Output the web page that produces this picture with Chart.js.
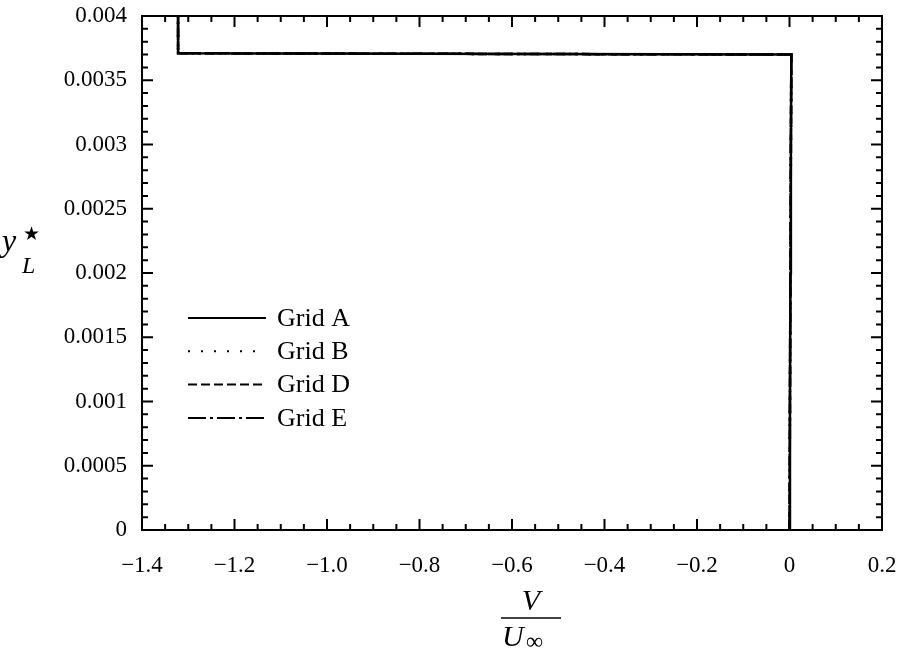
<!DOCTYPE html>
<html>
<head>
<meta charset="utf-8">
<script src="https://cdn.jsdelivr.net/npm/chart.js@4/dist/chart.umd.min.js"></script>
<style>
  html, body { margin: 0; padding: 0; background: #fff; }
  #wrap { width: 907px; height: 650px; position: relative; }
</style>
</head>
<body>
<div id="wrap"><canvas id="c" width="907" height="650"></canvas></div>
<script>
// ---- data ----
const seriesNames = ["Grid A", "Grid B", "Grid D", "Grid E"];
const yLevels = [0, 0.001, 0.002, 0.003, 0.0037, 0.00371, 0.004];
const vGridA = [0, 0.001, 0.002, 0.003, 0.004, -1.322, -1.322];
const vGridB = [0, 0.001, 0.002, 0.003, 0.004, -1.322, -1.322];
const vGridD = [0, 0.001, 0.002, 0.003, 0.004, -1.322, -1.322];
const vGridE = [0, 0.001, 0.002, 0.003, 0.004, -1.322, -1.322];
const xTicks = [-1.4, -1.2, -1.0, -0.8, -0.6, -0.4, -0.2, 0, 0.2];
const yTicks = [0, 0.0005, 0.001, 0.0015, 0.002, 0.0025, 0.003, 0.0035, 0.004];

const FONT = "'Liberation Serif', 'Times New Roman', serif";
const dashes = [[], [2, 11], [9, 4], [18, 4, 3, 4]];
const allV = [vGridA, vGridB, vGridD, vGridE];

const datasets = seriesNames.map((n, i) => ({
  label: n,
  data: allV[i].map((v, k) => ({ x: v, y: yLevels[k] })),
  borderColor: '#000',
  borderWidth: 2.5,
  borderDash: dashes[i],
  pointRadius: 0,
  fill: false,
  tension: 0
}));

function fmtX(v) {
  if (Math.abs(v) < 1e-9) return '0';
  return (v < 0 ? '\u2212' : '') + Math.abs(v).toFixed(1);
}
function fmtY(v) {
  if (Math.abs(v) < 1e-12) return '0';
  return String(+v.toFixed(4));
}

const frame = {
  id: 'frame',
  afterDraw(chart) {
    const ctx = chart.ctx;
    const a = chart.chartArea;
    const xs = chart.scales.x, ys = chart.scales.y;
    ctx.save();
    ctx.strokeStyle = '#000';
    ctx.lineWidth = 2;
    ctx.setLineDash([]);
    ctx.strokeRect(a.left, a.top, a.right - a.left, a.bottom - a.top);
    // ticks
    const MAJ = 11, MIN = 6;
    ctx.beginPath();
    for (let i = 0; i < xTicks.length; i++) {
      const px = xs.getPixelForValue(xTicks[i]);
      ctx.moveTo(px, a.bottom); ctx.lineTo(px, a.bottom - MAJ);
      ctx.moveTo(px, a.top); ctx.lineTo(px, a.top + MAJ);
      if (i < xTicks.length - 1) {
        const step = (xTicks[i + 1] - xTicks[i]) / 4;
        for (let k = 1; k < 4; k++) {
          const mx = xs.getPixelForValue(xTicks[i] + k * step);
          ctx.moveTo(mx, a.bottom); ctx.lineTo(mx, a.bottom - MIN);
          ctx.moveTo(mx, a.top); ctx.lineTo(mx, a.top + MIN);
        }
      }
    }
    for (let i = 0; i < yTicks.length; i++) {
      const py = ys.getPixelForValue(yTicks[i]);
      ctx.moveTo(a.left, py); ctx.lineTo(a.left + MAJ, py);
      ctx.moveTo(a.right, py); ctx.lineTo(a.right - MAJ, py);
      if (i < yTicks.length - 1) {
        const step = (yTicks[i + 1] - yTicks[i]) / 5;
        for (let k = 1; k < 5; k++) {
          const my = ys.getPixelForValue(yTicks[i] + k * step);
          ctx.moveTo(a.left, my); ctx.lineTo(a.left + MIN, my);
          ctx.moveTo(a.right, my); ctx.lineTo(a.right - MIN, my);
        }
      }
    }
    ctx.stroke();

    // legend
    const lx0 = 188, lx1 = 266, tx = 277, y0 = 318, dy = 33.3;
    chart.data.datasets.forEach((ds, i) => {
      const yy = y0 + i * dy;
      ctx.beginPath();
      ctx.setLineDash(ds.borderDash);
      ctx.lineWidth = 2;
      ctx.moveTo(lx0, yy); ctx.lineTo(lx1, yy);
      ctx.stroke();
      ctx.setLineDash([]);
      ctx.fillStyle = '#000';
      ctx.font = '26px ' + FONT;
      ctx.textAlign = 'left';
      ctx.textBaseline = 'middle';
      ctx.fillText(ds.label, tx, yy + 1);
    });

    // y title: y*_L
    ctx.fillStyle = '#000';
    ctx.textAlign = 'left';
    ctx.textBaseline = 'alphabetic';
    ctx.font = 'italic 32px ' + FONT;
    ctx.fillText('y', 2, 251);
    ctx.font = '19px ' + FONT;
    ctx.fillText('\u2605', 23, 240);
    ctx.font = 'italic 24px ' + FONT;
    ctx.fillText('L', 22, 273);

    // x title: V / U_inf
    const cx = 531;
    ctx.textAlign = 'center';
    ctx.font = 'italic 30px ' + FONT;
    ctx.fillText('V', cx, 610);
    ctx.lineWidth = 1.5;
    ctx.beginPath();
    ctx.moveTo(501, 618); ctx.lineTo(561, 618);
    ctx.stroke();
    ctx.textAlign = 'left';
    ctx.font = 'italic 30px ' + FONT;
    ctx.fillText('U', 502, 646);
    ctx.font = '24px ' + FONT;
    ctx.fillText('\u221E', 526, 649);
    ctx.restore();
  }
};

new Chart(document.getElementById('c'), {
  type: 'line',
  data: { datasets },
  options: {
    responsive: false,
    animation: false,
    devicePixelRatio: 1,
    layout: { padding: { top: 16, right: 25, left: 0, bottom: 0 } },
    plugins: { legend: { display: false }, tooltip: { enabled: false } },
    scales: {
      x: {
        type: 'linear', min: -1.4, max: 0.2,
        afterBuildTicks: s => { s.ticks = xTicks.map(v => ({ value: v })); },
        afterFit: s => { s.height = 120; s.paddingLeft = 0; s.paddingRight = 0; },
        grid: { display: false, drawTicks: false },
        border: { display: false },
        ticks: { color: '#000', font: { family: FONT, size: 23 }, padding: 22, maxRotation: 0, autoSkip: false, callback: v => fmtX(v) }
      },
      y: {
        type: 'linear', min: 0, max: 0.004,
        afterBuildTicks: s => { s.ticks = yTicks.map(v => ({ value: v })); },
        afterFit: s => { s.width = 142; s.paddingTop = 0; s.paddingBottom = 0; },
        grid: { display: false, drawTicks: false },
        border: { display: false },
        ticks: { color: '#000', font: { family: FONT, size: 23 }, padding: 15, autoSkip: false, callback: v => fmtY(v) }
      }
    }
  },
  plugins: [frame]
});
</script>
</body>
</html>
